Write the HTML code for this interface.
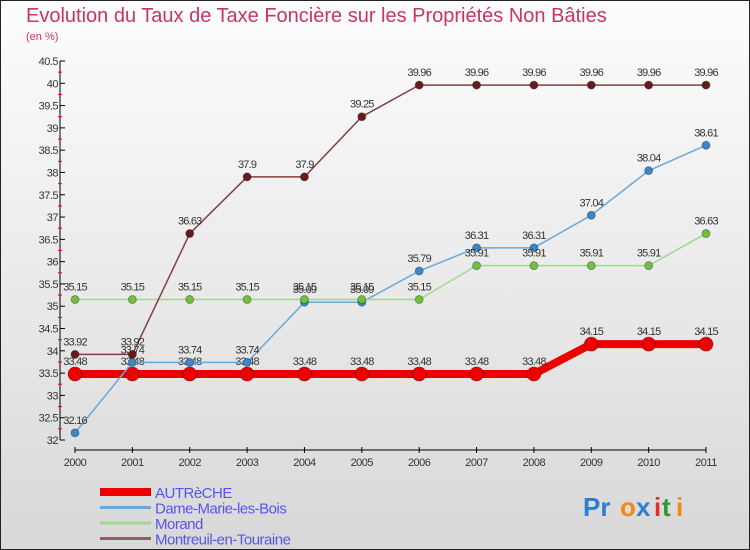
<!DOCTYPE html>
<html><head><meta charset="utf-8"><style>
body{margin:0}
#wrap{width:750px;height:550px;position:relative;overflow:hidden;font-family:"Liberation Sans",sans-serif}
</style></head><body>
<div id="wrap">
<svg id="chart" width="750" height="550" xmlns="http://www.w3.org/2000/svg">
<defs><linearGradient id="bg" x1="0" y1="0" x2="0" y2="1"><stop offset="0" stop-color="#fdfdfd"/><stop offset="1" stop-color="#d8d8d8"/></linearGradient></defs>
<rect x="0.5" y="0.5" width="749" height="549" fill="url(#bg)" stroke="#222"/>
<text x="26" y="22" font-size="20" fill="#c8336a">Evolution du Taux de Taxe Foncière sur les Propriétés Non Bâties</text>
<text x="26" y="40" font-size="11" fill="#c8336a">(en %)</text>
<g id="axes"></g><g id="series"></g><g id="legend"></g>
<g font-size="26" font-weight="bold" font-family="Liberation Sans, sans-serif">
<text x="583" y="516" fill="#2a7fd0">Pr</text><text x="620" y="516" fill="#f08a10">o</text><text x="636" y="516" fill="#2a7fd0">x</text><text x="654" y="516" fill="#e03020">i</text><text x="662" y="516" fill="#2a9a30">t</text><text x="676" y="516" fill="#f08a10">i</text>
</g>
</svg>
</div>
<script>
const years=[2000,2001,2002,2003,2004,2005,2006,2007,2008,2009,2010,2011];
const autreche=[33.48,33.48,33.48,33.48,33.48,33.48,33.48,33.48,33.48,34.15,34.15,34.15];
const dameMarie=[32.16,33.74,33.74,33.74,35.09,35.09,35.79,36.31,36.31,37.04,38.04,38.61];
const morand=[35.15,35.15,35.15,35.15,35.15,35.15,35.15,35.91,35.91,35.91,35.91,36.63];
const montreuil=[33.92,33.92,36.63,37.9,37.9,39.25,39.96,39.96,39.96,39.96,39.96,39.96];
const yTicks=[32,32.5,33,33.5,34,34.5,35,35.5,36,36.5,37,37.5,38,38.5,39,39.5,40,40.5];
const seriesNames=["AUTRèCHE","Dame-Marie-les-Bois","Morand","Montreuil-en-Touraine"];
const NS="http://www.w3.org/2000/svg";
function X(i){return 75+i*(706-75)/(years.length-1);}
function Y(v){return 440-(v-32)*(440-61)/8.5;}
function mk(tag,attrs,parent){const e=document.createElementNS(NS,tag);for(const k in attrs)e.setAttribute(k,attrs[k]);parent.appendChild(e);return e;}
const axes=document.getElementById('axes');
let ya=mk('line',{x1:60,y1:Y(32),x2:60,y2:Y(40.5),stroke:'#000'},axes);


yTicks.forEach(t=>{
 mk('line',{x1:60,x2:65,y1:Y(t),y2:Y(t),stroke:'#000'},axes);
 if(t<40.5)mk('line',{x1:58,x2:62,y1:Y(t+0.25),y2:Y(t+0.25),stroke:'#e00'},axes);
 let tx=mk('text',{x:58,y:Y(t)+4,'font-size':11,'text-anchor':'end',fill:'#333','letter-spacing':'-0.5'},axes);
 tx.textContent=t;
 
 
});
let xa=mk('line',{x1:X(0),y1:450,x2:X(11),y2:450,stroke:'#000'},axes);


years.forEach((y,i)=>{
 mk('line',{x1:X(i),x2:X(i),y1:447,y2:453,stroke:'#000'},axes);
 let tx=mk('text',{x:X(i),y:466,'font-size':11,'text-anchor':'middle',fill:'#333','letter-spacing':'-0.5'},axes);
 tx.textContent=y;
 
 
});
const sg=document.getElementById('series');
function drawSeries(vals,color,dot,w,r,name){
 const g=mk('g',{},sg);
 
 
 mk('polyline',{points:vals.map((v,i)=>X(i)+','+Y(v)).join(' '),fill:'none',stroke:color,'stroke-width':w},g);
 vals.forEach((v,i)=>{
  let c=mk('circle',{cx:X(i),cy:Y(v),r:r,fill:dot,stroke:'rgba(0,0,0,0.3)'},g);
  
  
  let t=mk('text',{x:X(i),y:Y(v)-9,'font-size':11,'text-anchor':'middle',fill:'#333','letter-spacing':'-0.8'},g);
  t.textContent=v;
  
  
 });
}
drawSeries(autreche,'#ee0000','#ee0000',8,7,'series-autreche');
drawSeries(dameMarie,'#6aa8d8','#3a88c8',1.5,4,'series-dame-marie');
drawSeries(morand,'#a0d890','#70c040',1.5,4,'series-morand');
drawSeries(montreuil,'#804040','#6a1a1a',1.5,4,'series-montreuil');
const lg=document.getElementById('legend');
const lc=['#ee0000','#6aa8d8','#a0d890','#906060'],lw=[8,3,3,3];
seriesNames.forEach((n,i)=>{
 const g=mk('g',{},lg);
 
 
 const y=492+i*15.5;
 mk('line',{x1:100,x2:151,y1:y,y2:y,stroke:lc[i],'stroke-width':lw[i]},g);
 let t=mk('text',{x:155,y:y+6,'font-size':15,fill:'#5555ee','letter-spacing':'-0.5'},g);
 t.textContent=n;
});
</script>
</body></html>
